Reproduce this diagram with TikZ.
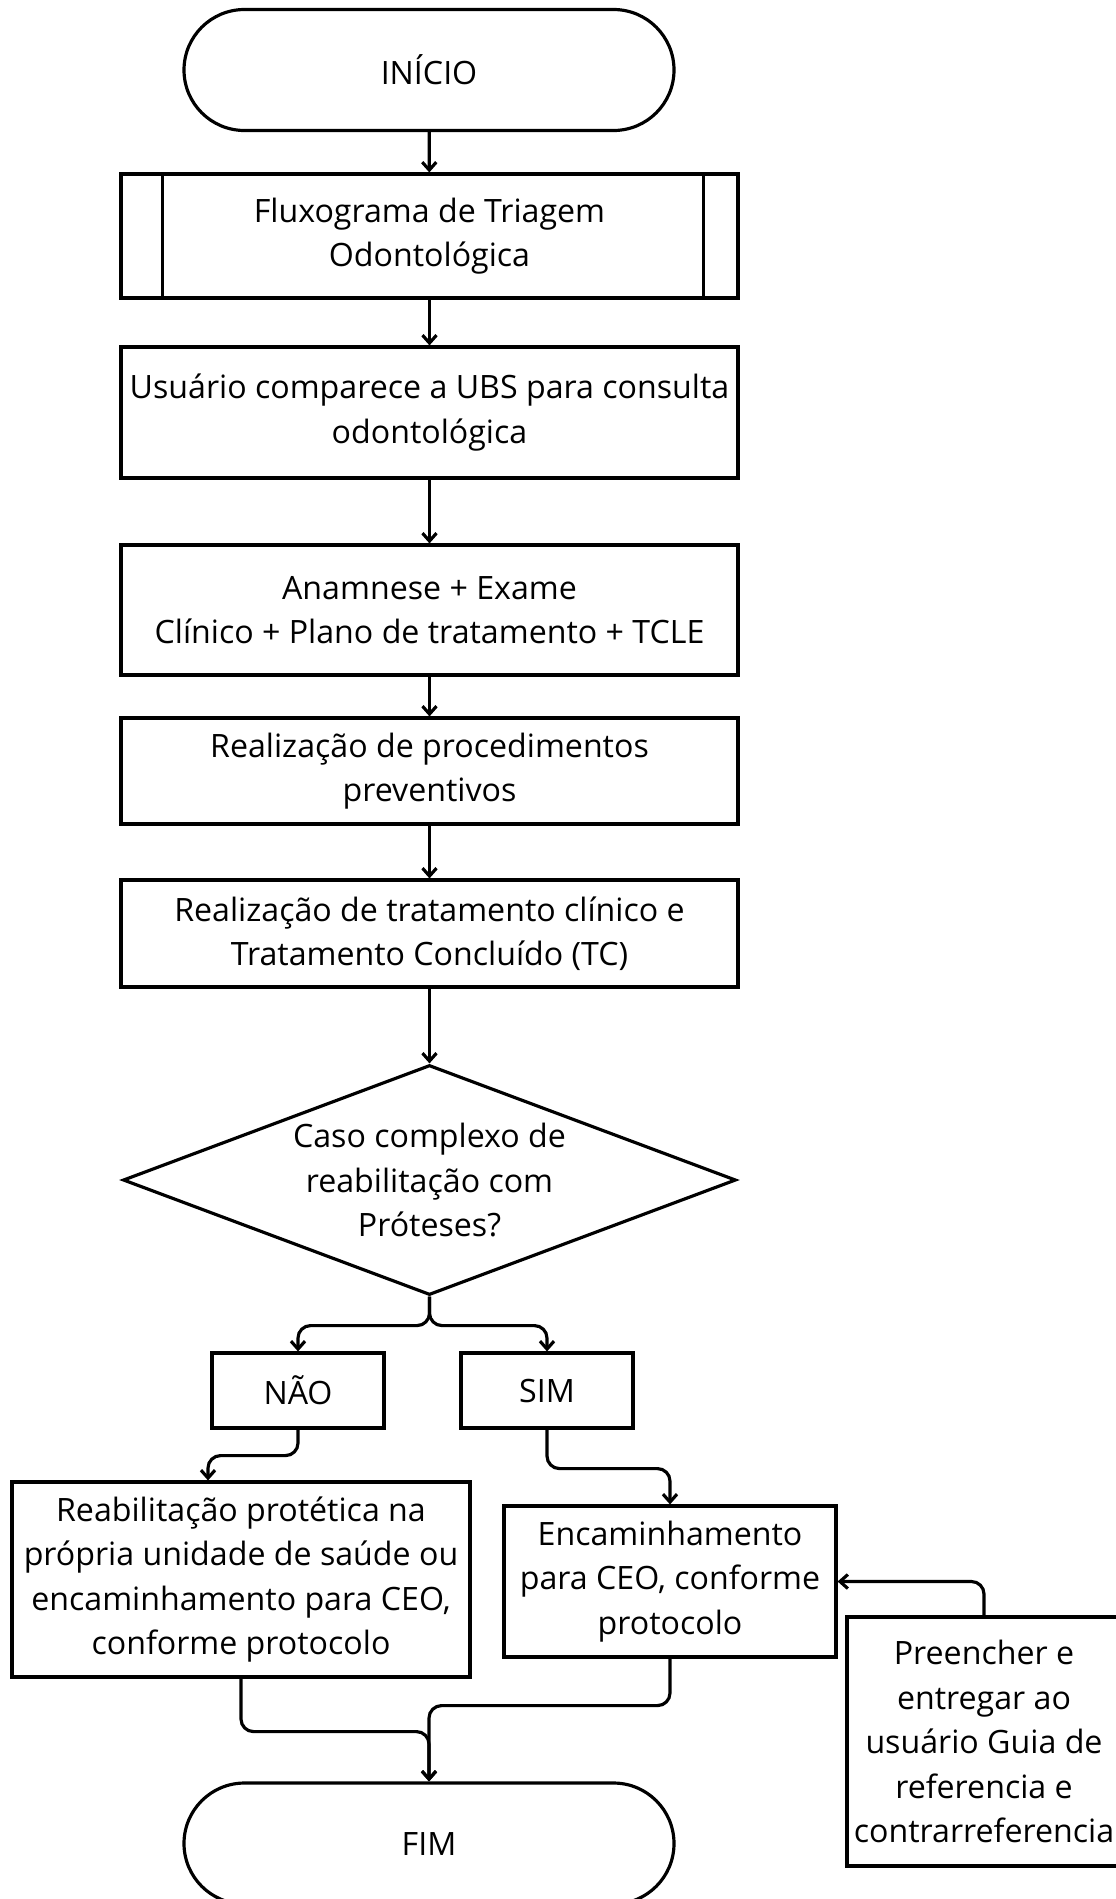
\documentclass[tikz,border=0pt]{standalone}
\usepackage{fontspec}
\setmainfont{Open Sans}
\usetikzlibrary{calc}
\usetikzlibrary{arrows.meta}
\usetikzlibrary{shapes.geometric,shapes.misc}

\tikzset{
  caixa/.style={draw, rectangle, align=center, inner sep=0pt, font=\fontsize{18.3}{25.3}\selectfont},
  terminal/.style={draw, rounded rectangle, minimum width=9.8cm, minimum height=2.42cm, inner sep=0pt, font=\fontsize{18.3}{25.3}\selectfont},
  decisao/.style={draw, diamond, aspect=2.67, minimum width=12.26cm, minimum height=4.6cm, inner sep=0pt, align=center, font=\fontsize{18.3}{25.3}\selectfont},
  seta/.style={-{Straight Barb[length=4.5pt,width=8pt]}, rounded corners=0.25cm}
}

\begin{document}
\begin{tikzpicture}[line width=1.8pt]
\useasboundingbox (0,0) rectangle (22.3,-37.98);

\node[terminal] (inicio) at (8.58,-1.40) {INÍCIO};
\node[caixa, minimum width=12.34cm, minimum height=2.48cm] (fluxo) at (8.59,-4.72) {Fluxograma de Triagem\\Odontológica};
\draw ($(fluxo.north west)+(0.86,0)$) -- ($(fluxo.south west)+(0.86,0)$);
\draw ($(fluxo.north east)+(-0.72,0)$) -- ($(fluxo.south east)+(-0.72,0)$);
\node[caixa, minimum width=12.34cm, minimum height=2.62cm] (usuario) at (8.59,-8.25) {Usuário comparece a UBS para consulta\\odontológica};
\node[caixa, minimum width=12.34cm, minimum height=2.6cm] (anamnese) at (8.59,-12.2) {Anamnese + Exame\\Clínico + Plano de tratamento + TCLE};
\node[caixa, minimum width=12.34cm, minimum height=2.12cm] (preventivo) at (8.59,-15.42) {Realização de procedimentos\\preventivos};
\node[caixa, minimum width=12.34cm, minimum height=2.14cm] (tratamento) at (8.59,-18.67) {Realização de tratamento clínico e\\Tratamento Concluído (TC)};
\node[decisao] (caso) at (8.59,-23.6) {Caso complexo de\\reabilitação com\\Próteses?};
\node[caixa, minimum width=3.44cm, minimum height=1.5cm] (nao) at (5.96,-27.81) {NÃO};
\node[caixa, minimum width=3.44cm, minimum height=1.5cm] (sim) at (10.94,-27.81) {SIM};
\node[caixa, minimum width=9.16cm, minimum height=3.9cm] (reab) at (4.82,-31.59) {Reabilitação protética na\\própria unidade de saúde ou\\encaminhamento para CEO,\\conforme protocolo};
\node[caixa, minimum width=6.64cm, minimum height=3.02cm] (encam) at (13.4,-31.63) {Encaminhamento\\para CEO, conforme\\protocolo};
\node[caixa, minimum width=5.48cm, minimum height=4.98cm] (guia) at (19.68,-34.83) {Preencher e\\entregar ao\\usuário Guia de\\referencia e\\contrarreferencia};
\node[terminal] (fim) at (8.58,-36.87) {FIM};

% fluxo principal
\draw[seta] (inicio) -- (fluxo);
\draw[seta] (fluxo) -- (usuario);
\draw[seta] (usuario) -- (anamnese);
\draw[seta] (anamnese) -- (preventivo);
\draw[seta] (preventivo) -- (tratamento);
\draw[seta] (tratamento) -- (caso);

% decisao
\draw[seta] (caso.south) -- ++(0,-0.58) -| (nao.north);
\draw[seta] (caso.south) -- ++(0,-0.58) -| (sim.north);
\draw[seta] (nao.south) -- ++(0,-0.52) -| ([xshift=-0.66cm]reab.north);
\draw[seta] (sim.south) -- ++(0,-0.78) -| (encam.north);
\draw[seta] (guia.north) |- (encam.east);

% fim
\draw[seta] (reab.south) -- ++(0,-1.06) -| (fim.north);
\draw[seta] (encam.south) -- ++(0,-0.94) -| (fim.north);
\end{tikzpicture}
\end{document}
